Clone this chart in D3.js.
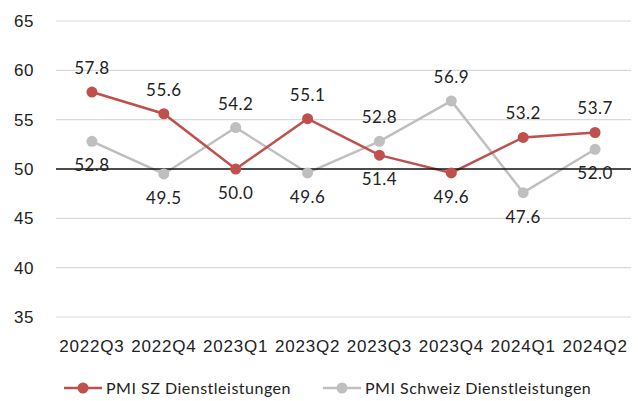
<!DOCTYPE html>
<html>
<head>
<meta charset="utf-8">
<script src="https://cdn.jsdelivr.net/npm/d3@7"></script>
<style>
  body { margin: 0; background: #fff; }
  svg { font-family: 'Lato', 'Noto Sans', sans-serif; }
</style>
</head>
<body>
<svg id="chart" width="638" height="401"></svg>
<script>
const quarters = ['2022Q3', '2022Q4', '2023Q1', '2023Q2', '2023Q3', '2023Q4', '2024Q1', '2024Q2'];
const pmiSz = [57.8, 55.6, 50.0, 55.1, 51.4, 49.6, 53.2, 53.7];
const pmiCh = [52.8, 49.5, 54.2, 49.6, 52.8, 56.9, 47.6, 52.0];
// label above (-1) or below (+1) the point
const szLabelPos = [-1, -1, 1, -1, 1, 1, -1, -1];
const chLabelPos = [1, 1, -1, 1, -1, -1, 1, 1];
const yTicks = [35, 40, 45, 50, 55, 60, 65];

const series = [
    { name: 'PMI SZ Dienstleistungen', values: pmiSz, pos: szLabelPos, color: '#c0504d' },
    { name: 'PMI Schweiz Dienstleistungen', values: pmiCh, pos: chLabelPos, color: '#bfbfbf' }
];

const svg = d3.select('#chart');
const plotLeft = 56, plotRight = 631, plotTop = 21, plotBottom = 317;

const x = d3.scaleBand().domain(quarters).range([plotLeft, plotRight]);
const y = d3.scaleLinear().domain([35, 65]).range([plotBottom, plotTop]);

// grid lines
svg.append('g')
    .selectAll('line')
    .data(yTicks.filter(t => t !== 50))
    .join('line')
    .attr('x1', plotLeft)
    .attr('x2', plotRight)
    .attr('y1', d => y(d))
    .attr('y2', d => y(d))
    .attr('stroke', '#d9d9d9')
    .attr('stroke-width', 1.2);

// y axis labels
const yAxis = svg.append('g')
    .attr('transform', `translate(${plotLeft - 22},0)`)
    .call(d3.axisLeft(y).tickValues(yTicks).tickSize(0).tickPadding(0));
yAxis.select('.domain').remove();
yAxis.selectAll('text')
    .attr('font-size', 17)
    .attr('letter-spacing', 0.5)
    .attr('fill', '#222')
    .style('font-family', 'inherit');

// x axis labels
const xAxis = svg.append('g')
    .attr('transform', `translate(0,${plotBottom})`)
    .call(d3.axisBottom(x).tickSize(0).tickPadding(23));
xAxis.select('.domain').remove();
xAxis.selectAll('text')
    .attr('font-size', 17)
    .attr('letter-spacing', 0.8)
    .attr('fill', '#222')
    .style('font-family', 'inherit');

const cx = (d, i) => x(quarters[i]) + x.bandwidth() / 2;
const line = d3.line().x(cx).y(d => y(d));

// draw grey series first, then red on top
[series[1], series[0]].forEach(s => {
    svg.append('path')
        .datum(s.values)
        .attr('d', line)
        .attr('fill', 'none')
        .attr('stroke', s.color)
        .attr('stroke-width', 2.5);
});

// black 50 reference line
svg.append('line')
    .attr('x1', plotLeft)
    .attr('x2', plotRight)
    .attr('y1', y(50))
    .attr('y2', y(50))
    .attr('stroke', '#111')
    .attr('stroke-width', 1.5);

[series[1], series[0]].forEach(s => {
    svg.append('g')
        .selectAll('circle')
        .data(s.values)
        .join('circle')
        .attr('cx', cx)
        .attr('cy', d => y(d))
        .attr('r', 5.5)
        .attr('fill', s.color);
});

series.forEach(s => {
    svg.append('g')
        .selectAll('text')
        .data(s.values)
        .join('text')
        .attr('x', cx)
        .attr('y', (d, i) => y(d) + s.pos[i] * 24)
        .attr('dy', '0.35em')
        .attr('text-anchor', 'middle')
        .attr('font-size', 17)
        .attr('letter-spacing', 0.5)
        .attr('fill', '#222')
        .text(d => d.toFixed(1));
});

// legend
const legend = svg.append('g').attr('transform', 'translate(0,388)');
const legendX = [64, 323];
series.forEach((s, i) => {
    const g = legend.append('g').attr('transform', `translate(${legendX[i]},0)`);
    g.append('line')
        .attr('x1', 0).attr('x2', 38)
        .attr('stroke', s.color).attr('stroke-width', 2.5);
    g.append('circle').attr('cx', 19).attr('r', 5.5).attr('fill', s.color);
    g.append('text')
        .attr('x', 42)
        .attr('dy', '0.35em')
        .attr('font-size', 16)
        .attr('letter-spacing', 0.5)
        .attr('fill', '#222')
        .text(s.name);
});
</script>
</body>
</html>
